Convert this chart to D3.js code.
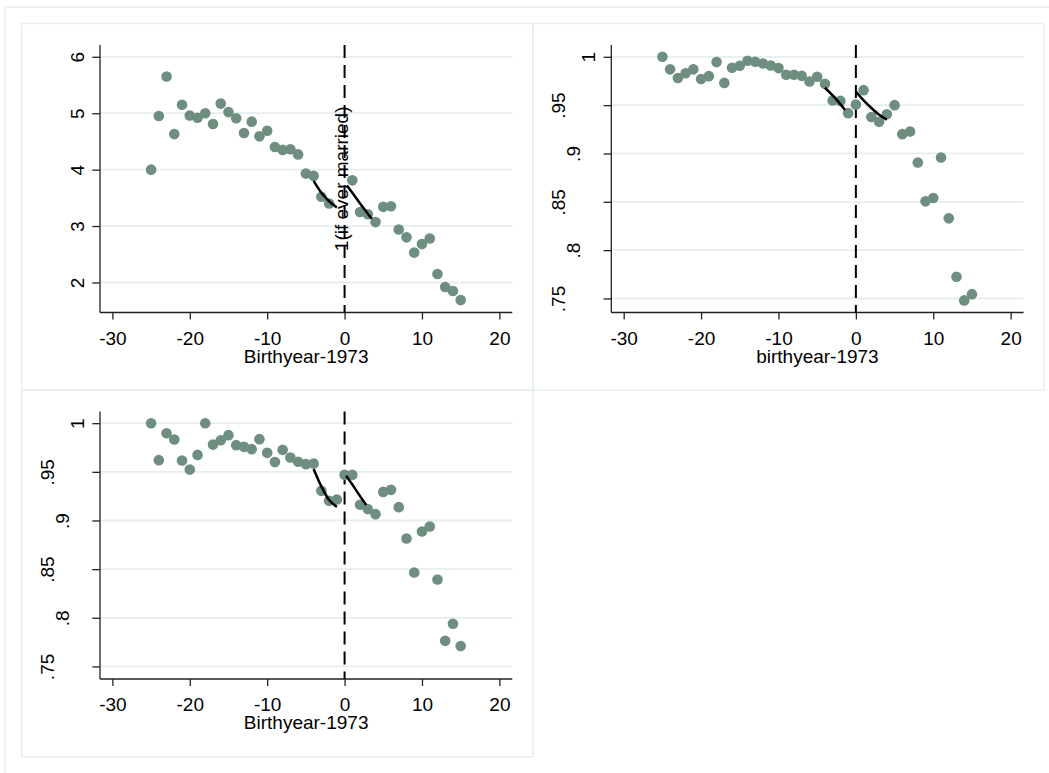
<!DOCTYPE html>
<html>
<head>
<meta charset="utf-8">
<script src="https://cdn.jsdelivr.net/npm/d3@7"></script>
<style>
  body { margin: 0; background: #fff; }
  text { font-family: "Liberation Sans", Arial, sans-serif; fill: #000; }
</style>
</head>
<body>
<svg id="chart" width="1049" height="773"></svg>
<script>
// birth cohort relative to 1973
let birth = [-25, -24, -23, -22, -21, -20, -19, -18, -17, -16, -15, -14, -13, -12, -11,
  -10, -9, -8, -7, -6, -5, -4, -3, -2, -1, 0, 1, 2, 3, 4, 5, 6, 7, 8, 9, 10, 11, 12, 13, 14, 15];

// panel 1 (points at -1 and 0 are hidden under the axis title)
let panel1 = [4.00, 4.95, 5.65, 4.63, 5.15, 4.96, 4.92, 5.00, 4.81, 5.17, 5.02, 4.91, 4.65, 4.85, 4.59,
  4.69, 4.40, 4.35, 4.36, 4.27, 3.93, 3.89, 3.52, 3.40, null, null, 3.81, 3.25, 3.21, 3.07,
  3.34, 3.35, 2.94, 2.80, 2.53, 2.68, 2.78, 2.15, 1.92, 1.85, 1.69];
let panel2 = [1.000, 0.987, 0.978, 0.983, 0.987, 0.977, 0.980, 0.9945, 0.973, 0.9886, 0.9907, 0.9959,
  0.9948, 0.993, 0.991, 0.9883, 0.9814, 0.9814, 0.9803, 0.9745, 0.9793, 0.972, 0.9548, 0.9544,
  0.9417, 0.9507, 0.9655, 0.9378, 0.9327, 0.9406, 0.95, 0.92, 0.9227, 0.8906, 0.8505, 0.8539,
  0.8958, 0.8329, 0.7725, 0.748, 0.7545];
let panel3 = [1.000, 0.962, 0.9897, 0.9832, 0.9616, 0.9523, 0.9674, 1.000, 0.978, 0.9825, 0.9877,
  0.9774, 0.9757, 0.9733, 0.9836, 0.9695, 0.96, 0.9726, 0.9647, 0.9603, 0.9579, 0.9585, 0.9305,
  0.9202, 0.9216, 0.9469, 0.9469, 0.9161, 0.9117, 0.9065, 0.9294, 0.9315, 0.9137, 0.8815, 0.8466,
  0.8887, 0.8938, 0.8394, 0.7764, 0.7939, 0.771];

// local fits either side of the cutoff
let fit1L = { x: [-4, -3, -2, -1], y: [3.80, 3.59, 3.44, 3.33] };
let fit1R = { x: [0.3, 1, 2, 3, 3.5], y: [3.72, 3.59, 3.40, 3.22, 3.13] };
let fit2L = { x: [-4, -3, -2, -1.4], y: [0.968, 0.960, 0.951, 0.945] };
let fit2R = { x: [0, 1, 2, 3, 4], y: [0.964, 0.955, 0.947, 0.940, 0.935] };
let fit3L = { x: [-4, -3, -2, -1], y: [0.953, 0.935, 0.921, 0.914] };
let fit3R = { x: [0.2, 1, 2, 2.8], y: [0.946, 0.937, 0.925, 0.916] };

let xTicks = [-30, -20, -10, 0, 10, 20];
let yTicks1 = [2, 3, 4, 5, 6];
let yTicks2 = [0.75, 0.8, 0.85, 0.9, 0.95, 1];

let panels = [
  { ox: 21.7, oy: 23.5, vals: panel1, fits: [fit1L, fit1R], yDom: [1.468, 6.207], yTicks: yTicks1,
    xTitle: "Birthyear-1973", yTitle: "1(if ever married)" },
  { ox: 533, oy: 23.5, vals: panel2, fits: [fit2L, fit2R], yDom: [0.7355, 1.0121], yTicks: yTicks2,
    xTitle: "birthyear-1973" },
  { ox: 21.7, oy: 390, vals: panel3, fits: [fit3L, fit3R], yDom: [0.7371, 1.0119], yTicks: yTicks2,
    xTitle: "Birthyear-1973" },
];

let panelW = 511.3, panelH = 366.8;
let plotL = 78.3, plotR = 490.6, plotT = 21.6, plotB = 289;
let dotColor = "#6e8e80";
let lineColor = "#e6eef1";

var svg = d3.select("#chart");

// outer frame of the combined graph
svg.append("rect")
  .attr("x", 5).attr("y", 7)
  .attr("width", 1056).attr("height", 767)
  .attr("fill", "none").attr("stroke", lineColor).attr("stroke-width", 1.5);

function fmtY(d) {
  if (d >= 1.5) return String(d);
  return d === 1 ? "1" : String(d).replace(/^0/, "");
}

panels.map((p) => {
  let g = svg.append("g").attr("transform", `translate(${p.ox},${p.oy})`);

  g.append("rect")
    .attr("width", panelW).attr("height", panelH)
    .attr("fill", "none").attr("stroke", lineColor).attr("stroke-width", 1.5);

  let x = d3.scaleLinear().domain([-31.6, 21.67]).range([plotL, plotR]);
  let y = d3.scaleLinear().domain(p.yDom).range([plotB, plotT]);

  // gridlines
  g.selectAll(".grid").data(p.yTicks).enter().append("line")
    .attr("x1", plotL).attr("x2", plotR)
    .attr("y1", (d) => y(d)).attr("y2", (d) => y(d))
    .attr("stroke", lineColor).attr("stroke-width", 1.8);

  // axes
  let xAxis = g.append("g").attr("transform", `translate(0,${plotB})`)
    .call(d3.axisBottom(x).tickValues(xTicks).tickSize(7).tickPadding(12)
      .tickSizeOuter(0).tickFormat((d) => String(d)));
  xAxis.select(".domain").attr("d", `M${plotL},0H${plotR}`);
  xAxis.selectAll("line").attr("stroke-width", 1.3).attr("stroke", "#222");
  xAxis.select(".domain").attr("stroke-width", 1.3).attr("stroke", "#222");
  xAxis.selectAll("text").style("font-size", "19px").attr("fill", "#000")
    .attr("font-family", "Liberation Sans, Arial, sans-serif");

  let yAxis = g.append("g").attr("transform", `translate(${plotL},0)`)
    .call(d3.axisLeft(y).tickValues(p.yTicks).tickSize(7.7).tickSizeOuter(0).tickFormat(fmtY));
  yAxis.select(".domain").attr("d", `M0,${plotT}V${plotB}`)
    .attr("stroke-width", 1.3).attr("stroke", "#222");
  yAxis.selectAll("line").attr("stroke-width", 1.3).attr("stroke", "#222");
  yAxis.selectAll("text").remove();
  yAxis.selectAll(".tick").append("text")
    .attr("transform", (d) => `translate(${-16 - 15 * (fmtY(d).length - 1)},0) rotate(-90)`)
    .attr("text-anchor", "middle")
    .attr("fill", "#000")
    .style("font-size", "19px")
    .text((d) => fmtY(d));

  g.append("text")
    .attr("x", (plotL + plotR) / 2).attr("y", plotB + 50)
    .attr("text-anchor", "middle")
    .style("font-size", "19px")
    .text(p.xTitle);

  // cutoff line
  g.append("line")
    .attr("x1", x(0)).attr("x2", x(0))
    .attr("y1", plotT).attr("y2", plotB)
    .attr("stroke", "#000").attr("stroke-width", 2)
    .attr("stroke-dasharray", "13,7");

  // scatter
  let pts = birth.map((b, i) => [b, p.vals[i]]).filter((d) => d[1] !== null);
  g.selectAll(".dot").data(pts).enter().append("circle")
    .attr("cx", (d) => x(d[0])).attr("cy", (d) => y(d[1]))
    .attr("r", 5.3).attr("fill", dotColor);

  // fits
  let line = d3.line().x((d) => x(d[0])).y((d) => y(d[1])).curve(d3.curveMonotoneX);
  p.fits.map((f) => {
    g.append("path")
      .datum(f.x.map((v, i) => [v, f.y[i]]))
      .attr("d", line)
      .attr("fill", "none").attr("stroke", "#000").attr("stroke-width", 2.5);
  });

  if (p.yTitle) {
    g.append("text")
      .attr("transform", `translate(${x(0) + 3},${(plotT + plotB) / 2}) rotate(-90)`)
      .attr("text-anchor", "middle")
      .style("font-size", "19px")
      .text(p.yTitle);
  }
});
</script>
</body>
</html>
